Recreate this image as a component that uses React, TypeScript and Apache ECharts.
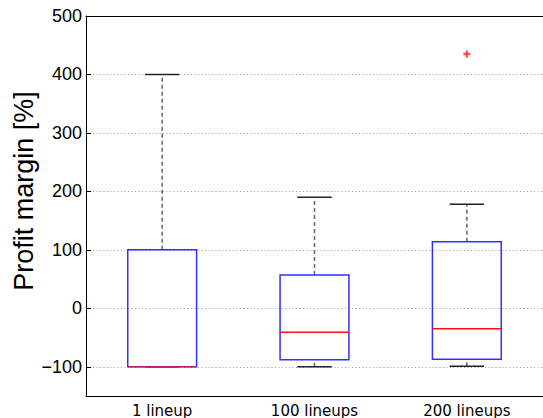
import React, { useEffect, useRef } from "react";
import * as echarts from "echarts";

const categories = ["1 lineup", "100 lineups", "200 lineups"];
const whiskerLow = [-100, -100, -99];
const q1 = [-100, -88, -87];
const median = [-100, -41, -35];
const q3 = [100, 57, 114];
const whiskerHigh = [400, 190, 178];
const outliers: [number, number][] = [[2, 435]];
const yTicks = [-100, 0, 100, 200, 300, 400, 500];
const yTitle = "Profit margin [%]";

export default function App() {
  const ref = useRef<HTMLDivElement>(null);
  useEffect(() => {
    if (!ref.current) return;
    const chart = echarts.init(ref.current, null, { renderer: "svg" });
    const boxData = categories.map((_, i) => [i, whiskerLow[i], q1[i], median[i], q3[i], whiskerHigh[i]]);
    chart.setOption({
      animation: false,
      grid: { left: 86, top: 16, width: 465, height: 380, containLabel: false },
      graphic: [
        {
          type: "text",
          x: 24,
          y: 191,
          rotation: Math.PI / 2,
          style: {
            text: yTitle,
            fill: "#000",
            fontFamily: "Liberation Sans",
            fontSize: 27,
            align: "center",
            verticalAlign: "middle",
          },
        },
      ],
      xAxis: [
        {
          type: "category",
          data: categories,
          boundaryGap: true,
          axisLine: { show: true, onZero: false, lineStyle: { color: "#000", width: 1 } },
          axisTick: { show: false },
          axisLabel: { color: "#000", fontFamily: "DejaVu Sans", fontSize: 15, margin: 7 },
          splitLine: { show: false },
        },
        {
          type: "category",
          data: categories,
          position: "top",
          axisLine: { show: true, onZero: false, lineStyle: { color: "#000", width: 1 } },
          axisTick: { show: false },
          axisLabel: { show: false },
        },
      ],
      yAxis: {
        type: "value",
        min: -150,
        max: 500,
        axisLine: { show: true, lineStyle: { color: "#000", width: 1 } },
        axisTick: { show: true, inside: true, length: 5, customValues: yTicks, lineStyle: { color: "#000" } },
        axisLabel: {
          customValues: yTicks,
          color: "#000",
          fontFamily: "Liberation Sans",
          fontSize: 18,
          margin: 4,
          formatter: (v: number) => (v < 0 ? "\u2212" + Math.abs(v) : String(v)),
        },
        splitLine: { show: true, lineStyle: { color: "#999", width: 1, type: [1, 2.5] } },
      },
      series: [
        {
          type: "custom",
          data: boxData,
          renderItem: (params: any, api: any) => {
            const idx = api.value(0);
            const band = api.size([1, 0])[0];
            const bw = band * 0.452;
            const cw = bw / 2;
            const pLow = api.coord([idx, api.value(1)]);
            const pQ1 = api.coord([idx, api.value(2)]);
            const pMed = api.coord([idx, api.value(3)]);
            const pQ3 = api.coord([idx, api.value(4)]);
            const pHigh = api.coord([idx, api.value(5)]);
            const x = pQ1[0];
            const dash = { stroke: "#6e6e6e", lineWidth: 1.6, lineDash: [4, 3], fill: null };
            const cap = { stroke: "#222", lineWidth: 1.5 };
            return {
              type: "group",
              children: [
                { type: "line", shape: { x1: x, y1: pQ3[1], x2: x, y2: pHigh[1] }, style: dash },
                { type: "line", shape: { x1: x, y1: pLow[1], x2: x, y2: pQ1[1] }, style: dash },
                { type: "line", shape: { x1: x - cw / 2, y1: pHigh[1], x2: x + cw / 2, y2: pHigh[1] }, style: cap },
                { type: "line", shape: { x1: x - cw / 2, y1: pLow[1], x2: x + cw / 2, y2: pLow[1] }, style: cap },
                {
                  type: "rect",
                  shape: { x: x - bw / 2, y: pQ3[1], width: bw, height: pQ1[1] - pQ3[1] },
                  style: { stroke: "#3030ff", lineWidth: 1.5, fill: null },
                },
                {
                  type: "line",
                  shape: { x1: x - bw / 2, y1: pMed[1], x2: x + bw / 2, y2: pMed[1] },
                  style: { stroke: "#ff1010", lineWidth: 1.5, opacity: idx === 0 ? 0.6 : 1 },
                },
              ],
            };
          },
        },
        {
          type: "scatter",
          data: outliers,
          symbol: "path://M2,0H4V2H6V4H4V6H2V4H0V2H2Z",
          symbolSize: 7,
          itemStyle: { color: "#ff2020" },
        },
      ],
    });
    return () => chart.dispose();
  }, []);
  return <div ref={ref} style={{ width: 543, height: 418, position: "absolute", left: 0, top: 0, background: "#fff" }} />;
}
